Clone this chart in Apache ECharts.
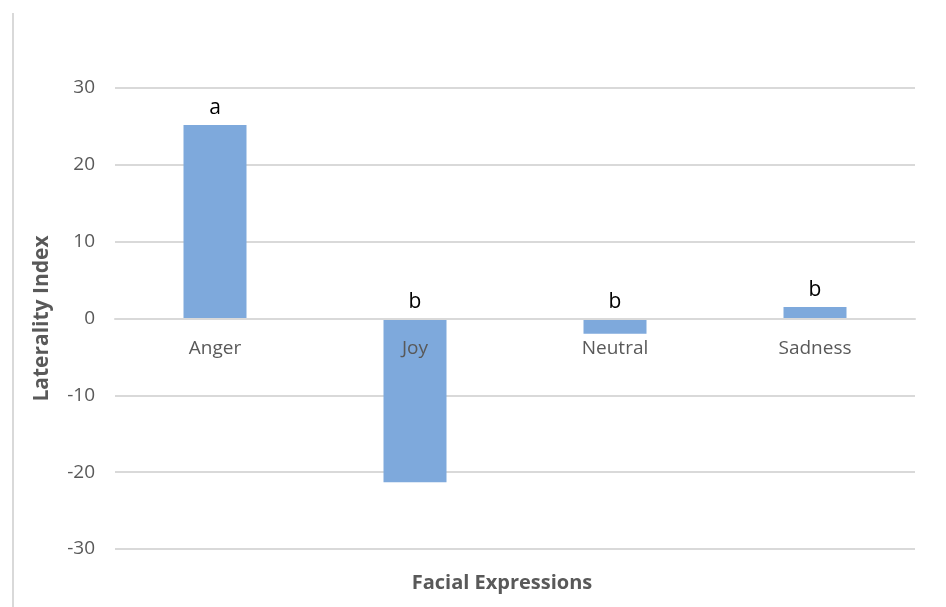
<!DOCTYPE html>
<html>
<head>
<meta charset="utf-8">
<script src="https://cdn.jsdelivr.net/npm/echarts@6/dist/echarts.min.js"></script>
<style>html,body{margin:0;padding:0;background:#fff}#c{width:946px;height:607px}</style>
</head>
<body>
<div id="c"></div>
<script>
const categories = ['Anger', 'Joy', 'Neutral', 'Sadness'];
const values = [25.2, -21.3, -2.0, 1.5];
const letters = ['a', 'b', 'b', 'b'];
const yTicks = { min: -30, max: 30, interval: 10 };

const chart = echarts.init(document.getElementById('c'), null, { renderer: 'canvas' });
const font = '"Open Sans", "Noto Sans", sans-serif';
chart.setOption({
  animation: false,
  grid: { left: 115, right: 31, top: 88, bottom: 58, containLabel: false },
  xAxis: {
    type: 'category',
    data: categories,
    position: 'bottom',
    offset: -230.5,
    z: 10,
    axisLine: { show: true, onZero: false, lineStyle: { color: '#d9d9d9', width: 2 } },
    axisTick: { show: false },
    axisLabel: { color: '#595959', fontSize: 19, fontFamily: font, margin: 21 }
  },
  yAxis: {
    type: 'value',
    min: yTicks.min, max: yTicks.max, interval: yTicks.interval,
    name: 'Laterality Index',
    nameLocation: 'middle',
    nameGap: 62,
    nameTextStyle: { color: '#595959', fontSize: 21, fontWeight: 'bold', fontFamily: font },
    axisLine: { show: false },
    axisTick: { show: false },
    axisLabel: { color: '#595959', fontSize: 19, fontFamily: font, margin: 20 },
    splitLine: { lineStyle: { color: '#d9d9d9', width: 2 } }
  },
  series: [{
    type: 'bar',
    z: 2,
    data: values.map((v, i) => ({ value: v, label: { formatter: letters[i] } })),
    barWidth: 63,
    itemStyle: { color: '#7ea9dc' },
    label: { show: true, position: 'top', distance: 6, color: '#000', fontSize: 21, fontFamily: font }
  }],
  graphic: [
    { type: 'line', shape: { x1: 13, y1: 13, x2: 13, y2: 607 }, style: { stroke: '#d9d9d9', lineWidth: 2 } },
    { type: 'text', x: 502, y: 583, style: { text: 'Facial Expressions', fill: '#595959', font: 'bold 20px "Open Sans", "Noto Sans", sans-serif', textAlign: 'center', textVerticalAlign: 'middle' } }
  ]
});
</script>
</body>
</html>
